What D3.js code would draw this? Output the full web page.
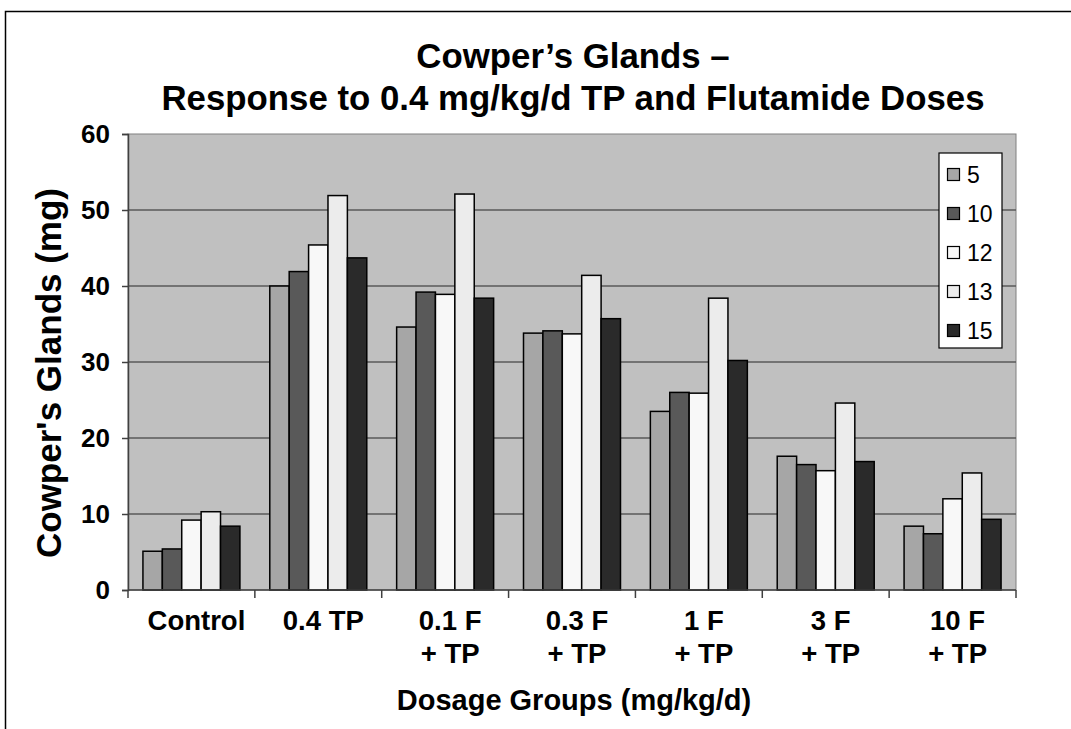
<!DOCTYPE html>
<html>
<head>
<meta charset="utf-8">
<script src="https://cdn.jsdelivr.net/npm/d3@7"></script>
<style>
  html, body { margin: 0; padding: 0; background: #fff; }
  svg { display: block; font-family: "Liberation Sans", Arial, sans-serif; }
</style>
</head>
<body>
<svg id="chart" width="1071" height="729"></svg>
<script>
// Dosage groups (two-line labels)
const categories = ["Control", "0.4 TP", "0.1 F + TP", "0.3 F + TP", "1 F + TP", "3 F + TP", "10 F + TP"];
const categoryLines = [["Control"], ["0.4 TP"], ["0.1 F", "+ TP"], ["0.3 F", "+ TP"], ["1 F", "+ TP"], ["3 F", "+ TP"], ["10 F", "+ TP"]];
// Study labels
const seriesNames = ["5", "10", "12", "13", "15"];
// Cowper's gland weight (mg) per series
const series5  = [5.1, 40.0, 34.6, 33.8, 23.5, 17.6, 8.4];
const series10 = [5.4, 41.9, 39.2, 34.1, 26.0, 16.5, 7.4];
const series12 = [9.2, 45.4, 38.9, 33.7, 25.9, 15.7, 12.0];
const series13 = [10.3, 51.9, 52.1, 41.4, 38.4, 24.6, 15.4];
const series15 = [8.4, 43.7, 38.4, 35.7, 30.2, 16.9, 9.3];
const yTicks = [0, 10, 20, 30, 40, 50, 60];
const seriesColors = ["#a6a6a6", "#595959", "#f8f8f8", "#ececec", "#2a2a2a"];

const allSeries = [series5, series10, series12, series13, series15];

const svg = d3.select("#chart");
const plot = { left: 128, right: 1016, top: 134, bottom: 590 };

// outer frame (top and left edges visible)
svg.append("path")
  .attr("d", `M5.5,729 L5.5,11.5 L1071,11.5`)
  .attr("fill", "none").attr("stroke", "#000").attr("stroke-width", 1.5);

const x0 = d3.scaleBand().domain(categories).range([plot.left, plot.right]).paddingInner(0).paddingOuter(0);
const x1 = d3.scaleBand().domain(seriesNames).range([0, x0.bandwidth()]).paddingInner(0).paddingOuter(0.77);
const y = d3.scaleLinear().domain([0, 60]).range([plot.bottom, plot.top]);

// plot background
svg.append("rect")
  .attr("x", plot.left).attr("y", plot.top)
  .attr("width", plot.right - plot.left).attr("height", plot.bottom - plot.top)
  .attr("fill", "#c0c0c0").attr("stroke", "#808080").attr("stroke-width", 1);

// gridlines
svg.append("g").selectAll("line").data(yTicks.filter(d => d > 0 && d < 60)).join("line")
  .attr("x1", plot.left).attr("x2", plot.right)
  .attr("y1", d => y(d)).attr("y2", d => y(d))
  .attr("stroke", "#5a5a5a").attr("stroke-width", 1.5);

// bars
const groups = svg.append("g").selectAll("g").data(categories).join("g")
  .attr("transform", d => `translate(${x0(d)},0)`);
groups.selectAll("rect")
  .data((c, ci) => seriesNames.map((s, si) => ({ s, si, v: allSeries[si][ci] })))
  .join("rect")
  .attr("x", d => x1(d.s))
  .attr("y", d => y(d.v))
  .attr("width", x1.bandwidth())
  .attr("height", d => y(0) - y(d.v))
  .attr("fill", d => seriesColors[d.si])
  .attr("stroke", "#000").attr("stroke-width", 1.5);

// y axis
const yAxis = d3.axisLeft(y).tickValues(yTicks).tickSize(6).tickPadding(12);
const gy = svg.append("g").attr("transform", `translate(${plot.left},0)`).call(yAxis);
gy.select(".domain").attr("stroke", "#404040").attr("stroke-width", 1.5);
gy.selectAll(".tick line").attr("stroke", "#404040").attr("stroke-width", 1.5);
gy.selectAll(".tick text")
  .attr("font-size", 26).attr("font-weight", "bold").attr("fill", "#000")
  .attr("font-family", "'Liberation Sans', Arial, sans-serif");

// x axis line and boundary ticks
svg.append("line")
  .attr("x1", plot.left).attr("x2", plot.right)
  .attr("y1", plot.bottom).attr("y2", plot.bottom)
  .attr("stroke", "#404040").attr("stroke-width", 1.5);
const boundaries = categories.map(c => x0(c)).concat([x0(categories[categories.length - 1]) + x0.bandwidth()]);
svg.append("g").selectAll("line").data(boundaries).join("line")
  .attr("x1", d => d).attr("x2", d => d)
  .attr("y1", plot.bottom).attr("y2", plot.bottom + 8)
  .attr("stroke", "#404040").attr("stroke-width", 1.5);

// category labels
const labelX = d => x0(d) + x0.bandwidth() / 2 + 5;
const xl = svg.append("g").selectAll("text").data(categories).join("text")
  .attr("x", labelX)
  .attr("y", 630)
  .attr("text-anchor", "middle")
  .attr("font-size", 27.5).attr("font-weight", "bold");
xl.each(function (d, i) {
  const t = d3.select(this);
  categoryLines[i].forEach((line, li) => {
    t.append("tspan").attr("x", labelX(d)).attr("dy", li === 0 ? 0 : 33).text(line);
  });
});

// title
const title = svg.append("text").attr("text-anchor", "middle")
  .attr("font-size", 34.8).attr("font-weight", "bold");
title.append("tspan").attr("x", 573).attr("y", 68).text("Cowper\u2019s Glands \u2013");
title.append("tspan").attr("x", 573).attr("y", 110).text("Response to 0.4 mg/kg/d TP and Flutamide Doses");

// axis titles
svg.append("text")
  .attr("transform", "translate(61,373) rotate(-90)")
  .attr("text-anchor", "middle")
  .attr("font-size", 35).attr("font-weight", "bold")
  .text("Cowper's Glands (mg)");
svg.append("text")
  .attr("x", 574).attr("y", 710)
  .attr("text-anchor", "middle")
  .attr("font-size", 29).attr("font-weight", "bold")
  .text("Dosage Groups (mg/kg/d)");

// legend
const legend = svg.append("g").attr("transform", "translate(939,153)");
legend.append("rect").attr("x", 0).attr("y", 0).attr("width", 63).attr("height", 195)
  .attr("fill", "#fff").attr("stroke", "#000").attr("stroke-width", 1.2);
const items = legend.selectAll("g").data(seriesNames).join("g")
  .attr("transform", (d, i) => `translate(0,${22 + i * 39})`);
items.append("rect").attr("x", 8.5).attr("y", -6.5).attr("width", 12).attr("height", 12)
  .attr("fill", (d, i) => seriesColors[i]).attr("stroke", "#000").attr("stroke-width", 1.2);
items.append("text").attr("x", 28).attr("y", 8).attr("font-size", 23).text(d => d);
</script>
</body>
</html>
